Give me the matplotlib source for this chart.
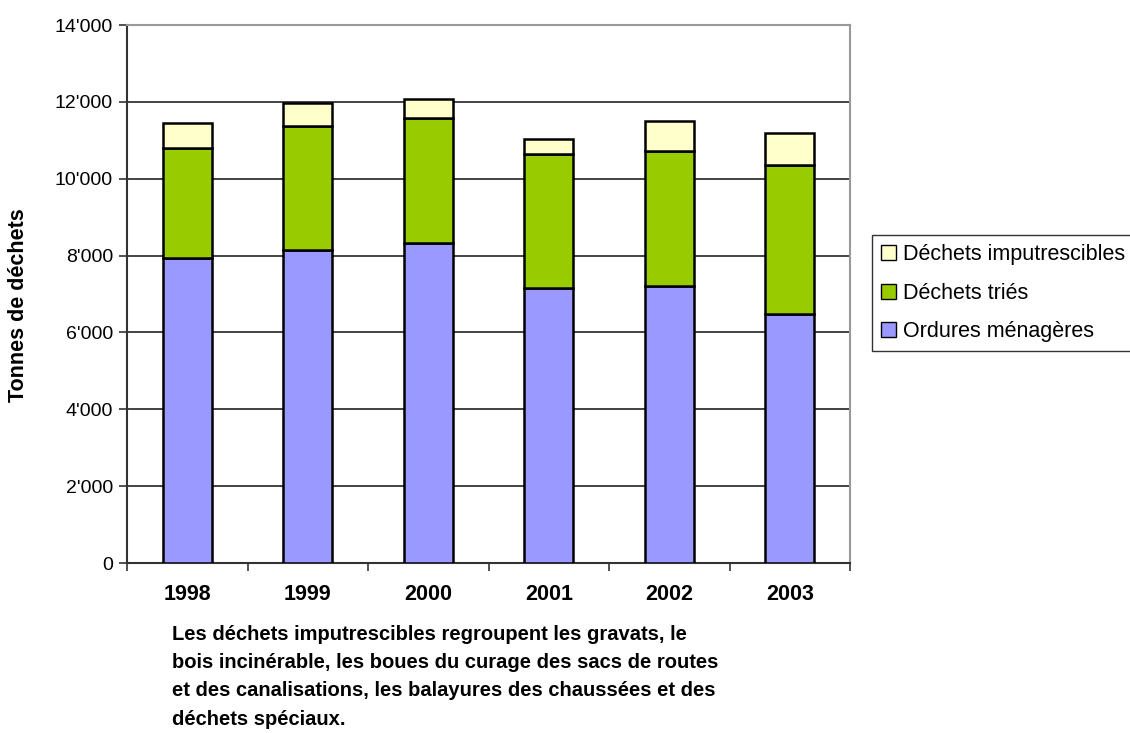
import matplotlib
matplotlib.use("Agg")
import matplotlib.pyplot as plt
from matplotlib.patches import Patch
from matplotlib.ticker import FuncFormatter

plt.rcParams['font.family'] = ['Liberation Sans', 'DejaVu Sans']

years = ['1998', '1999', '2000', '2001', '2002', '2003']
ordures = [7940, 8150, 8320, 7160, 7210, 6480]
tries = [2870, 3230, 3270, 3490, 3510, 3870]
imputrescibles = [630, 580, 480, 380, 770, 830]

c_ord = '#9999FF'
c_tri = '#99CC00'
c_imp = '#FFFFCC'

W, H = 1130, 733
fig = plt.figure(figsize=(W/100, H/100), dpi=100)
ax = fig.add_axes([127/W, 1-563/H, (850-127)/W, (563-25)/H])

x = list(range(len(years)))
bw = 0.41
kw = dict(width=bw, edgecolor='black', linewidth=1.8, zorder=3)
ax.bar(x, ordures, color=c_ord, **kw)
ax.bar(x, tries, bottom=ordures, color=c_tri, **kw)
bot2 = [a + b for a, b in zip(ordures, tries)]
ax.bar(x, imputrescibles, bottom=bot2, color=c_imp, **kw)

ax.set_xlim(-0.5, len(years) - 0.5)
ax.set_ylim(0, 14000)
ax.set_yticks(range(0, 14001, 2000))
ax.yaxis.set_major_formatter(FuncFormatter(lambda v, p: '0' if v == 0 else f"{int(v)//1000}'{int(v)%1000:03d}"))
ax.grid(axis='y', color='#222222', linewidth=1.2, zorder=0)
ax.set_axisbelow(True)

ax.set_xticks(x)
ax.set_xticklabels(years, fontweight='bold', fontsize=15.5)
ax.set_xticks([i - 0.5 for i in range(len(years) + 1)], minor=True)
ax.tick_params(axis='x', which='major', length=0, pad=15)
ax.tick_params(axis='x', which='minor', length=6, width=1.2, color='#333333')
ax.tick_params(axis='y', length=6, width=1.2, color='#333333', labelsize=14, pad=4)

for s in ['left', 'bottom']:
    ax.spines[s].set_color('#333333')
    ax.spines[s].set_linewidth(1.5)
for s in ['right', 'top']:
    ax.spines[s].set_color('#999999')
    ax.spines[s].set_linewidth(1.5)

fig.text(19/W, 1-305.5/H, 'Tonnes de déchets', rotation=90, fontweight='bold',
         fontsize=15.5, ha='center', va='center')

handles = [Patch(facecolor=c_imp, edgecolor='black', label='Déchets imputrescibles'),
           Patch(facecolor=c_tri, edgecolor='black', label='Déchets triés'),
           Patch(facecolor=c_ord, edgecolor='black', label='Ordures ménagères')]
leg = fig.legend(handles=handles, loc='upper left', bbox_to_anchor=(872/W, 1-235/H),
                 frameon=True, fancybox=False, fontsize=15.5, handlelength=0.7,
                 handleheight=0.7, handletextpad=0.3, labelspacing=0.82,
                 borderpad=0.42, borderaxespad=0)
leg.get_frame().set_edgecolor('black')
leg.get_frame().set_linewidth(1.0)

caption = ["Les déchets imputrescibles regroupent les gravats, le",
           "bois incinérable, les boues du curage des sacs de routes",
           "et des canalisations, les balayures des chaussées et des",
           "déchets spéciaux."]
for i, line in enumerate(caption):
    fig.text(172/W, 1-(634 + 28.5*i)/H, line, fontweight='bold', fontsize=14.5,
             ha='left', va='center')

fig.savefig('out.png', dpi=100)
